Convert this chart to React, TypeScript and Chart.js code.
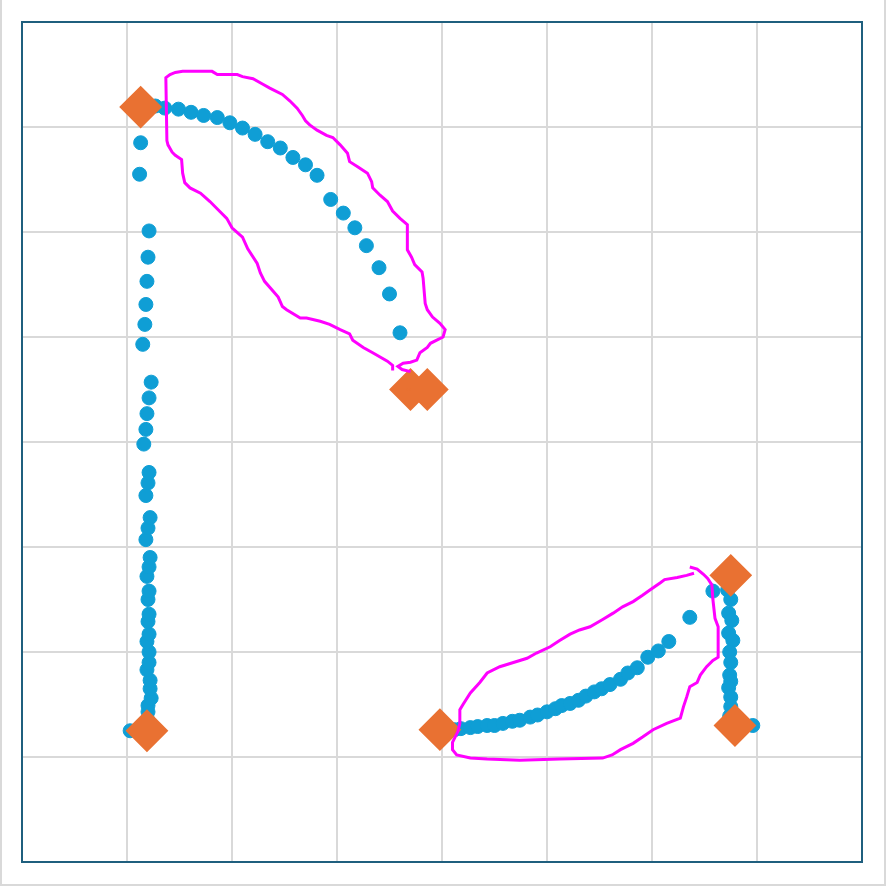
import React, { useEffect, useRef } from "react";
import { Chart, registerables } from "chart.js";

Chart.register(...registerables);

// Axis range (grid every 100 units)
const AXIS_MIN = 0;
const AXIS_MAX = 800;
const AXIS_STEP = 100;

// Blue sample points — first note: stem (bottom -> top)
const stem1: [number, number][] = [
  [103, 125], [120, 135], [120, 143], [120, 149], [123, 156], [122, 165], [122, 173],
  [119, 183], [121, 190], [121, 200], [119, 210], [121, 217], [120, 229], [121, 236],
  [120, 250], [121, 258], [119, 272], [121, 281], [122, 290], [118, 307], [120, 318],
  [122, 328], [118, 349], [120, 361], [121, 371], [116, 398], [118, 412], [119, 427],
  [121, 442], [123, 457], [115, 493], [117, 512], [118, 531], [119, 553], [120, 576],
  [121, 601], [112, 655], [113, 685],
];

// Blue sample points — first note: flag
const flag1: [number, number][] = [
  [127, 720], [136, 718], [149, 717], [161, 714], [173, 711], [186, 709], [198, 704],
  [210, 699], [222, 693], [234, 686], [246, 680], [258, 671], [270, 664], [281, 654],
  [294, 631], [306, 618], [317, 604], [328, 587], [340, 566], [350, 541], [360, 504],
];

// Blue sample points — second note: curve
const curve2: [number, number][] = [
  [412, 126], [418, 127], [427, 128], [434, 129], [443, 130], [450, 130], [458, 132],
  [467, 134], [474, 135], [484, 138], [491, 140], [500, 143], [508, 146], [514, 149],
  [522, 151], [530, 154], [537, 158], [545, 162], [552, 165], [560, 169], [570, 174],
  [577, 180], [586, 185], [596, 195], [606, 201], [616, 210], [636, 233], [658, 258],
];

// Blue sample points — second note: stem (top -> bottom)
const stem2: [number, number][] = [
  [672, 259], [675, 250], [673, 237], [676, 230], [673, 218], [677, 211], [674, 200],
  [675, 190], [674, 178], [675, 172], [673, 166], [675, 157], [675, 148], [674, 139],
  [696, 130],
];

// Orange stroke end points
const endpoints: [number, number][] = [
  [113, 719], [119, 125], [370, 450], [386, 450], [398, 126], [675, 273], [679, 130],
];

// Magenta contour around the first flag
const contour1: [number, number][] = [
  [353, 468], [353, 473], [348, 477], [334, 485], [325, 490], [315, 497], [312, 503],
  [303, 507], [293, 512], [284, 515], [271, 518], [265, 518], [252, 526], [248, 529],
  [244, 538], [238, 545], [231, 553], [227, 561], [224, 570], [215, 584], [210, 595],
  [200, 604], [195, 613], [187, 621], [179, 629], [170, 637], [160, 642], [155, 647],
  [153, 656], [152, 669], [146, 673], [143, 676], [139, 683], [138, 687], [137, 747],
  [141, 750], [146, 752], [153, 753], [181, 753], [186, 750], [205, 750], [210, 748],
  [220, 746], [229, 741], [236, 737], [248, 731], [255, 725], [262, 718], [267, 711],
  [270, 706], [274, 702], [281, 697], [290, 692], [296, 690], [303, 683], [310, 675],
  [312, 667], [320, 662], [329, 656], [333, 648], [334, 642], [341, 635], [348, 629],
  [353, 620], [360, 613], [367, 607], [367, 583], [371, 576], [374, 569], [381, 562],
  [382, 556], [384, 532], [386, 526], [391, 519], [398, 513], [403, 507], [401, 500],
  [395, 497], [389, 494], [386, 490], [379, 485], [376, 478], [370, 476], [363, 475],
  [358, 472], [362, 469], [370, 467],
];

// Magenta contour around the second curve
const contour2: [number, number][] = [
  [636, 281], [643, 279], [649, 274], [653, 270], [657, 264], [658, 250], [660, 232],
  [663, 224], [663, 195], [658, 192], [652, 186], [646, 178], [643, 171], [636, 167],
  [633, 157], [630, 148], [627, 137], [614, 132], [601, 126], [591, 119], [582, 113],
  [570, 107], [562, 102], [553, 99], [512, 98], [474, 97], [443, 98], [427, 99],
  [414, 102], [410, 107], [410, 114], [415, 124], [417, 132], [417, 145], [420, 150],
  [427, 161], [436, 171], [443, 180], [455, 186], [468, 190], [481, 194], [490, 199],
  [503, 205], [512, 211], [522, 217], [531, 221], [541, 224], [553, 231], [563, 237],
  [572, 243], [582, 248], [591, 254], [598, 259], [608, 266], [612, 269], [624, 271],
  [633, 273], [640, 275],
];

const BLUE = "#0F9ED5";
const ORANGE = "#E97132";
const MAGENTA = "#FF00FF";
const FRAME = "#1F5F7E";
const GRID = "#D9D9D9";

const toPts = (arr: [number, number][]) => arr.map(([x, y]) => ({ x, y }));

const framePlugin = {
  id: "plotFrame",
  beforeDatasetsDraw(chart: any) {
    const { ctx, chartArea } = chart;
    ctx.save();
    ctx.strokeStyle = FRAME;
    ctx.lineWidth = 2;
    ctx.strokeRect(chartArea.left, chartArea.top, chartArea.right - chartArea.left, chartArea.bottom - chartArea.top);
    ctx.restore();
  },
};

export default function App() {
  const ref = useRef<HTMLCanvasElement>(null);

  useEffect(() => {
    if (!ref.current) return;
    const dotStyle = (data: [number, number][]) => ({
      data: toPts(data),
      showLine: false,
      pointRadius: 7,
      pointHoverRadius: 7,
      pointBorderWidth: 1,
      backgroundColor: BLUE,
      borderColor: BLUE,
      order: 3,
    });
    const lineStyle = (data: [number, number][]) => ({
      data: toPts(data),
      showLine: true,
      pointRadius: 0,
      borderColor: MAGENTA,
      backgroundColor: MAGENTA,
      borderWidth: 3,
      tension: 0,
      fill: false,
      order: 1,
    });
    const chart = new Chart(ref.current, {
      type: "scatter",
      data: {
        datasets: [
          lineStyle(contour1),
          lineStyle(contour2),
          {
            data: toPts(endpoints),
            showLine: false,
            pointStyle: "rectRot",
            pointRadius: 20,
            pointHoverRadius: 20,
            pointBorderWidth: 2,
            backgroundColor: ORANGE,
            borderColor: ORANGE,
            order: 2,
          },
          dotStyle(stem1),
          dotStyle(flag1),
          dotStyle(curve2),
          dotStyle(stem2),
        ] as any,
      },
      options: {
        animation: false,
        responsive: false,
        devicePixelRatio: 1,
        layout: { padding: { left: 22, top: 22, right: 24, bottom: 24 } },
        plugins: { legend: { display: false }, tooltip: { enabled: false } },
        scales: {
          x: {
            type: "linear",
            min: AXIS_MIN,
            max: AXIS_MAX,
            ticks: { display: false, stepSize: AXIS_STEP },
            grid: { color: GRID, lineWidth: 2, drawTicks: false },
            border: { display: false },
          },
          y: {
            type: "linear",
            min: AXIS_MIN,
            max: AXIS_MAX,
            ticks: { display: false, stepSize: AXIS_STEP },
            grid: { color: GRID, lineWidth: 2, drawTicks: false },
            border: { display: false },
          },
        },
      },
      plugins: [framePlugin],
    });
    return () => chart.destroy();
  }, []);

  return (
    <div style={{ position: "absolute", left: 0, top: 0, width: 886, height: 886, background: "#fff" }}>
      <canvas ref={ref} width={886} height={886} style={{ position: "absolute", left: 0, top: 0 }} />
      <div
        style={{
          position: "absolute",
          left: 0,
          top: 0,
          width: 886,
          height: 886,
          boxSizing: "border-box",
          borderLeft: "2px solid #D9D9D9",
          borderRight: "2px solid #D9D9D9",
          borderBottom: "2px solid #D9D9D9",
          pointerEvents: "none",
        }}
      />
    </div>
  );
}
